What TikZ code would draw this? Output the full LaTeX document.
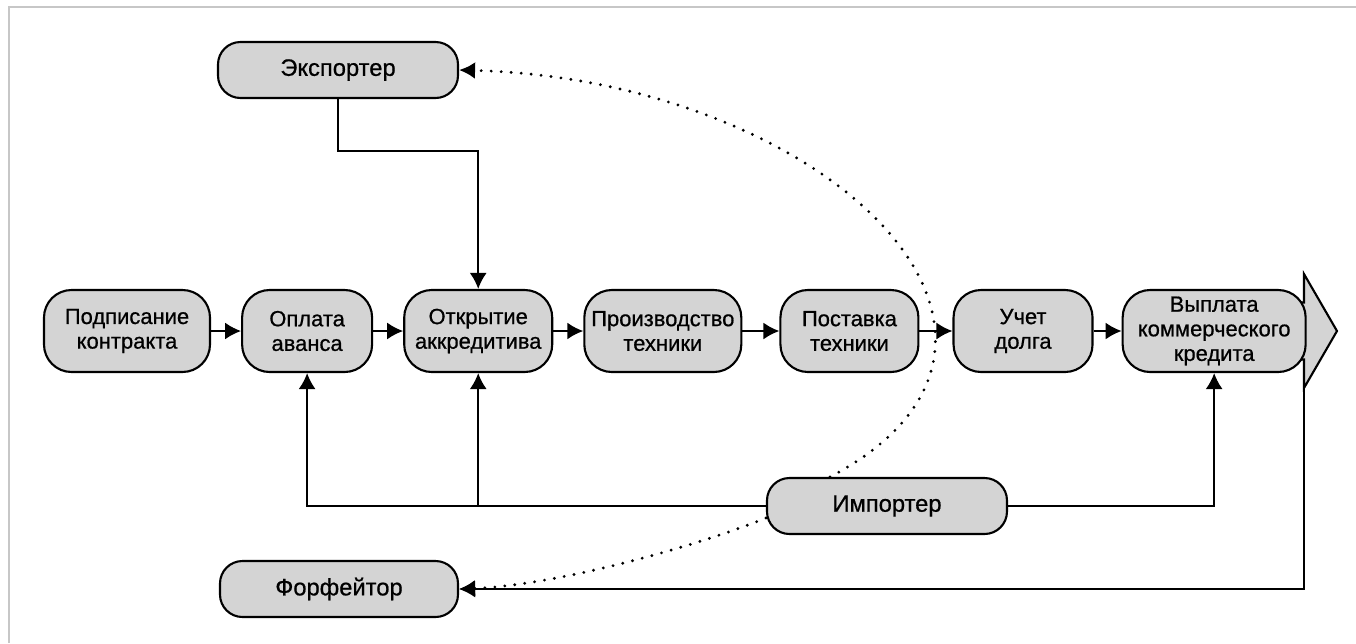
\documentclass[tikz,border=0pt]{standalone}
\usepackage{fontspec}
\setmainfont{Liberation Sans}
\newfontfamily\boxfont{Liberation Sans}[FakeBold=0.7]
\usetikzlibrary{positioning,arrows.meta,backgrounds}

\tikzset{
  stage/.style={draw, line width=1.2pt, fill=black!17, rounded corners=0.55cm,
    minimum height=1.64cm, align=center, inner sep=2pt,
    font=\boxfont\fontsize{12.5}{14}\selectfont},
  actor/.style={stage, minimum width=4.8cm, minimum height=1.12cm, rounded corners=0.45cm,
    font=\boxfont\fontsize{13.5}{14}\selectfont},
  arr/.style={-{Latex[length=0.32cm,width=0.34cm]}, line width=1.1pt},
  dotarr/.style={arr, line cap=round, dash pattern=on 0pt off 5.7pt, line width=1.8pt},
  bigarrow/.style={draw, line width=1.2pt, fill=black!17, line join=miter}
}

\begin{document}
\begin{tikzpicture}[node distance=0.6cm]
    \useasboundingbox (0,0) rectangle (27.12,-12.86);
    \draw[black!22, line width=1.2pt] (0.18,-12.86) -- (0.18,-0.14) -- (27.12,-0.14);

    \node[stage, minimum width=3.32cm] (podpis) at (2.54,-6.62) {Подписание\\контракта};
    \node[stage, minimum width=2.6cm]  (oplata)   [right=of podpis]       {Оплата\\аванса};
    \node[stage, minimum width=2.96cm] (otkrytie) [right=of oplata]       {Открытие\\аккредитива};
    \node[stage, minimum width=3.14cm] (proizv)   [right=of otkrytie]     {Производство\\техники};
    \node[stage, minimum width=2.76cm] (postavka) [right=0.74cm of proizv]   {Поставка\\техники};
    \node[stage, minimum width=2.78cm] (uchet)    [right=0.66cm of postavka] {Учет\\долга};
    \node[stage, minimum width=3.66cm] (vyplata)  [right=0.56cm of uchet]    {Выплата\\коммерческого\\кредита};

    \node[actor] (exporter)  at (6.76,-1.40)   {Экспортер};
    \node[actor] (importer)  at (17.74,-10.12) {Импортер};
    \node[actor, minimum width=4.76cm] (forfeitor) at (6.78,-11.78) {Форфейтор};

    % big arrow behind the last stage
    \begin{scope}[on background layer]
      \draw[bigarrow] ([yshift=0.57cm]vyplata.center) -- (26.08,-6.05) -- (26.08,-5.48)
        -- (26.74,-6.62) -- (26.08,-7.76) coordinate (headlow) -- (26.08,-7.19)
        -- ([yshift=-0.57cm]vyplata.center) -- cycle;
    \end{scope}

    % main chain
    \path[arr]
    (podpis)   edge (oplata)
    (oplata)   edge (otkrytie)
    (otkrytie) edge (proizv)
    (proizv)   edge (postavka)
    (postavka) edge (uchet)
    (uchet)    edge (vyplata);

    % exporter and importer
    \draw[arr] (exporter.south) -- ++(0,-1.04) -| (otkrytie.north);
    \draw[arr] (importer.west) -| (oplata.south);
    \draw[arr] (importer.west -| otkrytie.south) -- (otkrytie.south);
    \draw[arr] (importer.east) -| (vyplata.south);
    \draw[arr] (headlow) |- (forfeitor.east);

    % dotted links
    \draw[dotarr] ([xshift=-1.14cm]importer.north) .. controls (21.8,-6.8) and (16.6,-1.6) .. (exporter.east);
    \draw[dotarr] ([yshift=-0.24cm]importer.west) .. controls (14.0,-10.9) and (11.2,-11.7) .. (forfeitor.east);
  \end{tikzpicture}
\end{document}
